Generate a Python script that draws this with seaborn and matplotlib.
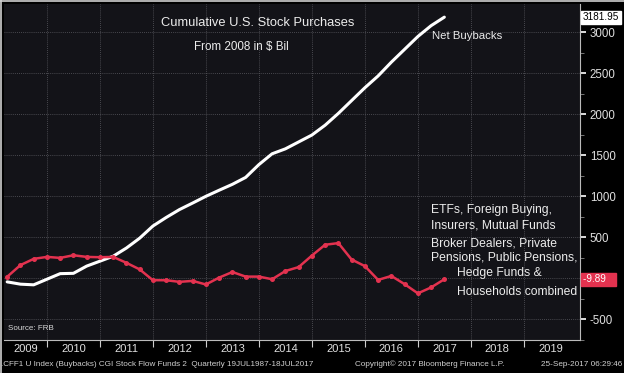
import numpy as np
import pandas as pd
import matplotlib
matplotlib.use("Agg")
import matplotlib.pyplot as plt
from matplotlib.lines import Line2D
import seaborn as sns

# ---- data (quarterly, cumulative $ Bil) ----
quarters = pd.period_range("2009Q1", "2017Q2", freq="Q")
net_buybacks = [-42, -70, -78, -10, 58, 62, 150, 210, 270, 370, 490, 638, 742, 838, 918,
                1000, 1074, 1146, 1230, 1386, 1518, 1578, 1662, 1746, 1866, 2010, 2166,
                2322, 2466, 2634, 2790, 2946, 3078, 3181.95]
other_buyers = [20, 162, 238, 262, 250, 282, 262, 258, 262, 190, 110, -22, -22, -42, -30,
                -74, 10, 78, 22, 22, -10, 90, 138, 278, 410, 430, 230, 150, -18, 30, -70,
                -182, -110, -9.89]
year_labels = [str(y) for y in range(2009, 2020)]
y_ticks = [-500, 0, 500, 1000, 1500, 2000, 2500, 3000]
y_tick_labels = ["-500", "", "500", "1000", "1500", "2000", "2500", "3000"]
other_label_lines = ["ETFs, Foreign Buying,", "Insurers, Mutual Funds", "Broker Dealers, Private",
                     "Pensions, Public Pensions,", "Hedge Funds &", "Households combined"]

sns.set_theme(style="dark")
plt.rcParams["font.family"] = ["Liberation Sans", "DejaVu Sans"]

W, H = 624, 373
fig = plt.figure(figsize=(W / 100, H / 100), dpi=100, facecolor="black")
ax = fig.add_axes([4 / W, 33 / H, 576 / W, 336 / H])
ax.set_facecolor("#131318")

t = quarters.year + quarters.quarter / 4
df = pd.DataFrame({"t": t, "net": net_buybacks, "other": other_buyers})

xmin, xmax = 2009.19, 2020.06
ax.set_xlim(xmin, xmax)
ax.set_ylim(-690, 3342)

# grid
for yv in y_ticks:
    ax.axhline(yv, color="#5a5a60", lw=0.6, ls=(0, (1, 1.5)), zorder=0)
for yr in range(2010, 2020):
    ax.axvline(yr, color="#5a5a60", lw=0.6, ls=(0, (1, 1.5)), zorder=0)

sns.lineplot(data=df, x="t", y="net", color="white", lw=2.2, ax=ax, zorder=3)
sns.lineplot(data=df, x="t", y="other", color="#e3324f", lw=1.8, marker="o",
             markersize=3.6, markeredgewidth=0, ax=ax, zorder=4)
ax.set_xlabel("")
ax.set_ylabel("")

# y axis on right
ax.yaxis.tick_right()
ax.set_yticks(y_ticks)
ax.set_yticklabels(y_tick_labels)
ax.set_yticks(np.arange(-750, 3300, 250), minor=True)
ax.tick_params(axis="y", which="major", direction="out", length=4, width=1.2, color="white",
               labelcolor="#e0e0e0", labelsize=8.3, pad=3)
ax.tick_params(axis="y", which="minor", direction="out", length=3, width=0.6, color="#888888", right=True)

# x axis: boundaries as minor ticks, labels centred in each year
ax.set_xticks(list(range(2010, 2020)), minor=True)
label_pos = [max(int(y) + 0.5, (xmin + int(y) + 1) / 2) for y in year_labels]
ax.set_xticks(label_pos)
ax.set_xticklabels(year_labels)
ax.tick_params(axis="x", which="major", length=0, labelcolor="#e0e0e0", labelsize=8, pad=3)
ax.tick_params(axis="x", which="minor", direction="out", length=5, width=0.8, color="#cccccc", bottom=True)

for s in ["left", "top"]:
    ax.spines[s].set_visible(False)
for s in ["bottom", "right"]:
    ax.spines[s].set_visible(True)
    ax.spines[s].set_color("#bbbbbb")
    ax.spines[s].set_linewidth(0.8)

# last-value boxes
tr = ax.get_yaxis_transform()
ax.text(1.005, net_buybacks[-1], f"{net_buybacks[-1]:.2f}", transform=tr, ha="left", va="center",
        fontsize=7.2, color="black", clip_on=False,
        bbox=dict(boxstyle="square,pad=0.15", fc="white", ec="white"))
ax.text(1.005, other_buyers[-1], f"{other_buyers[-1]:.2f}   ", transform=tr, ha="left", va="center",
        fontsize=7.2, color="white", clip_on=False,
        bbox=dict(boxstyle="square,pad=0.15", fc="#e3324f", ec="#e3324f"))

# texts
txt = "#ececec"
fig.text(258 / W, 1 - 23 / H, "Cumulative U.S. Stock Purchases", ha="center", va="center", color=txt, fontsize=9.3)
fig.text(241 / W, 1 - 47 / H, "From 2008 in $ Bil", ha="center", va="center", color=txt, fontsize=8.4)
fig.text(432 / W, 1 - 36 / H, "Net Buybacks", ha="left", va="center", color=txt, fontsize=8.2)
line_y = [210, 226, 243, 257, 273, 292]
line_x = [431, 431, 431, 431, 457, 457]
for s, xx, yy in zip(other_label_lines, line_x, line_y):
    fig.text(xx / W, 1 - yy / H, s, ha="left", va="center", color=txt, fontsize=8.7)
fig.text(8 / W, 1 - 328 / H, "Source: FRB", ha="left", va="center", color="#d8d8d8", fontsize=5.8)

# footer
fc = "#d0d0d0"
fig.text(1 / W, 1 - 364 / H, ".CFF1 U Index (Buybacks) CGI Stock Flow Funds 2  Quarterly 19JUL1987-18JUL2017",
         ha="left", va="center", color=fc, fontsize=5.9)
fig.text(430 / W, 1 - 364 / H, "Copyright\u00a9 2017 Bloomberg Finance L.P.", ha="center", va="center", color=fc, fontsize=5.9)
fig.text(622 / W, 1 - 364 / H, "25-Sep-2017 06:29:46", ha="right", va="center", color=fc, fontsize=5.9)

# screenshot border
fig.add_artist(Line2D([0.8 / W, 0.8 / W], [0, 1], color="#cfcfcf", lw=1.2, transform=fig.transFigure))
fig.add_artist(Line2D([0, 1], [1 - 0.8 / H, 1 - 0.8 / H], color="#cfcfcf", lw=1.2, transform=fig.transFigure))

fig.savefig("out.png", dpi=100, facecolor="black")
